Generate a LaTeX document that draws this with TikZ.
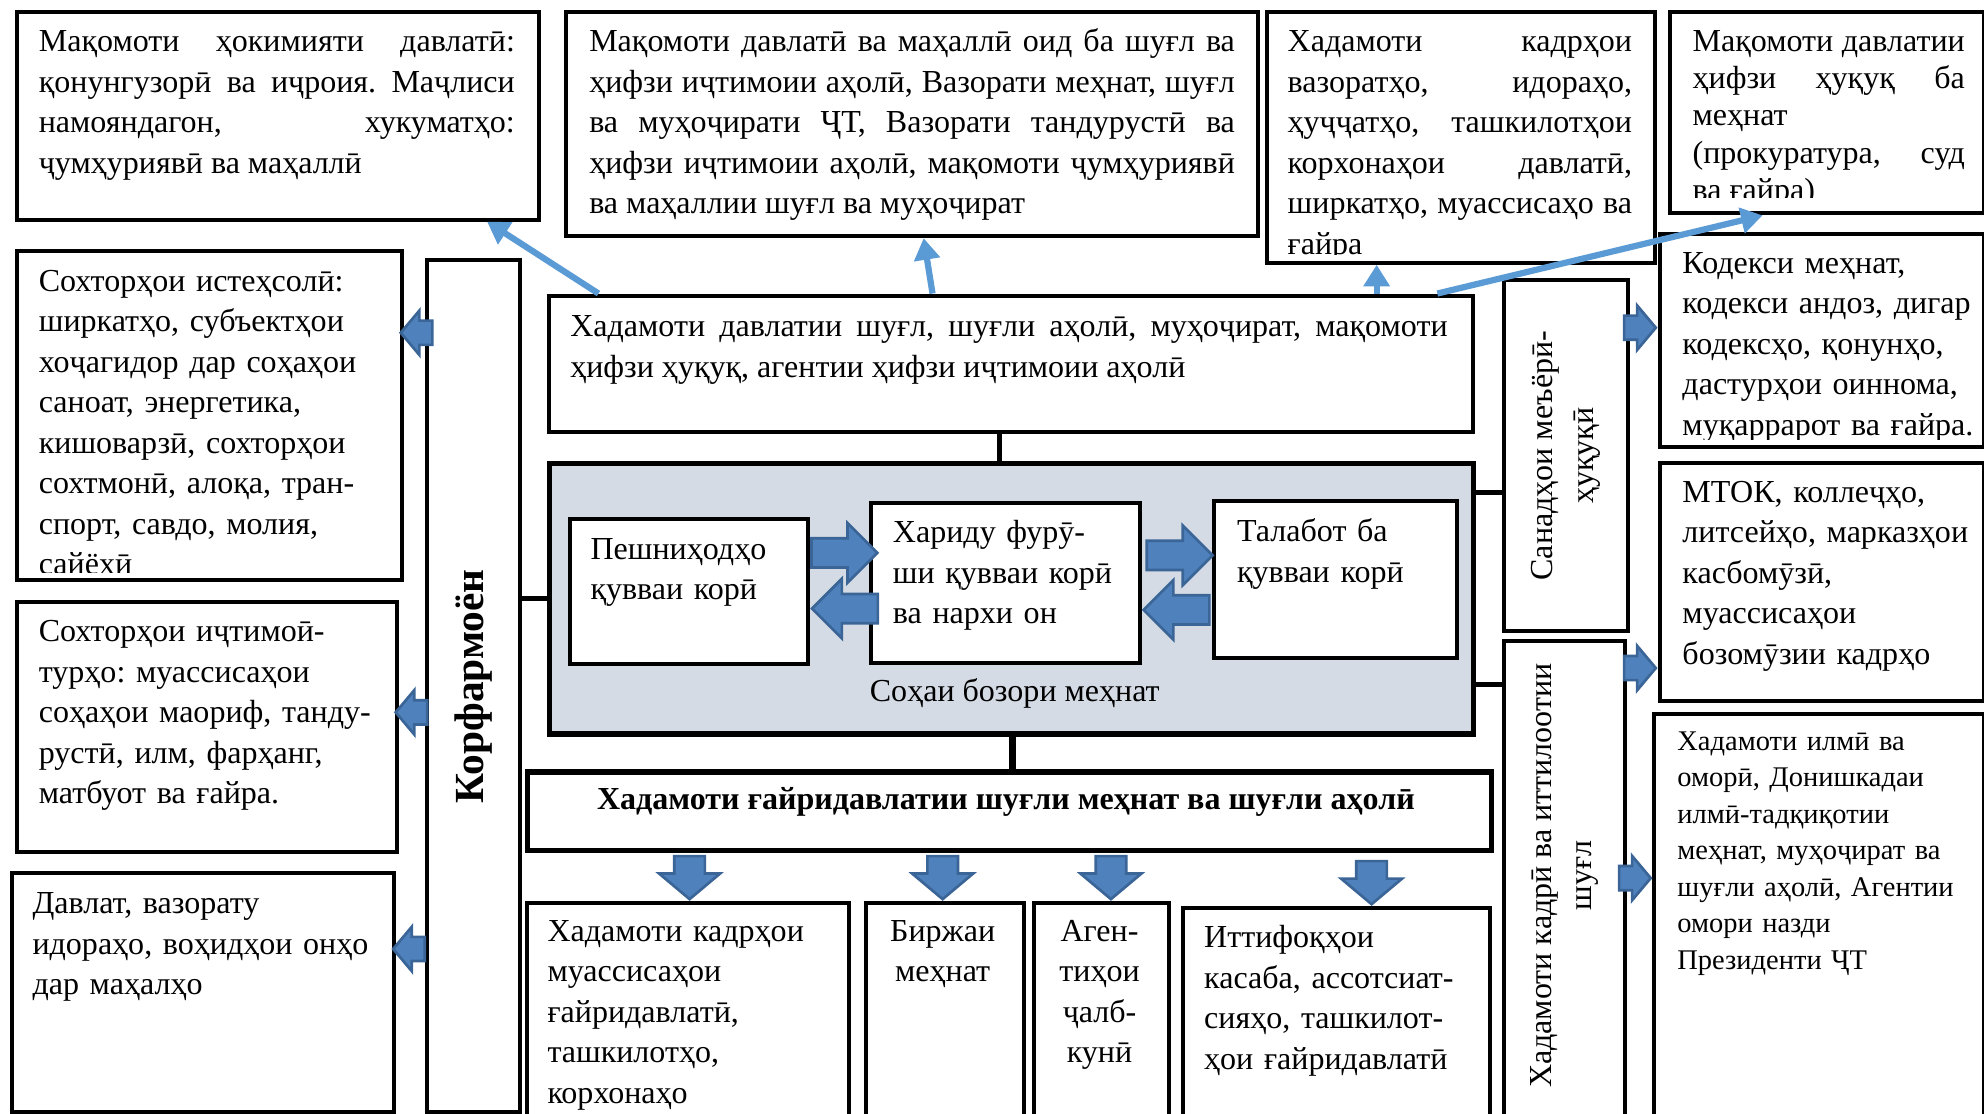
\documentclass[tikz,border=0pt]{standalone}
\usepackage{fontspec}
\setmainfont{Liberation Serif}
\usepackage{tikz}
\usetikzlibrary{arrows.meta,shapes.arrows}
\definecolor{arrowfill}{HTML}{4F81BD}
\definecolor{arrowedge}{HTML}{3A6596}
\definecolor{linkblue}{HTML}{5B9BD5}
\definecolor{marketgray}{HTML}{D5DBE5}
\newcommand{\boxfont}{\fontsize{7.2}{9.1}\selectfont}
\newcommand{\narrowfont}{\fontsize{7.2}{8.4}\selectfont}
\newcommand{\smallboxfont}{\fontsize{6.4}{8.2}\selectfont}
\hbadness=10000
\frenchspacing
\tikzset{
    %Define style for boxes
    frame/.style={
           rectangle,
           draw=black, line width=0.9pt,
           fill=white,
           anchor=north west,
           inner sep=0pt},
    heavyframe/.style={
           frame,
           line width=1.2pt},
    txt/.style={
           inner sep=0pt,
           anchor=north west,
           font=\boxfont},
    % Define arrow styles
    link/.style={
           draw=linkblue, line width=1.4pt,
           -{Triangle[length=0.17cm,width=0.2cm]}},
    conn/.style={
           draw=black, line width=1.1pt},
    blockarrow/.style={
           single arrow,
           draw=arrowedge, fill=arrowfill,
           line width=0.6pt,
           inner xsep=0pt,
           inner ysep=0.085cm,
           single arrow tip angle=100,
           single arrow head extend=0.08cm,
           minimum height=0.25cm},
    bigarrow/.style={
           blockarrow,
           single arrow tip angle=90,
           inner ysep=0.105cm,
           single arrow head extend=0.12cm,
           minimum height=0.52cm},
    downarrow/.style={
           blockarrow,
           inner ysep=0.11cm,
           single arrow head extend=0.12cm,
           minimum height=0.34cm}
}

\begin{document}
\begin{tikzpicture}[x=0.01cm,y=-0.01cm]
\clip (0,0) rectangle (1568,880);
% top row
\node[frame, minimum width=4.12cm, minimum height=1.64cm] (B1) at (12,8) {};
\node[txt, text width=3.76cm, align=justify] (B1t) at (30,18) {\strut Мақомоти ҳокимияти давлатӣ:\linebreak қонунгузорӣ ва иҷроия. Маҷлиси\linebreak намояндагон, хукуматҳо:\linebreak ҷумҳуриявӣ ва маҳаллӣ};
\node[frame, minimum width=5.46cm, minimum height=1.77cm] (B2) at (446,8) {};
\node[txt, text width=5.10cm, align=justify] (B2t) at (465,18) {\strut Мақомоти давлатӣ ва маҳаллӣ оид ба шуғл ва\linebreak ҳифзи иҷтимоии аҳолӣ, Вазорати меҳнат, шуғл\linebreak ва муҳоҷирати ҶТ, Вазорати тандурустӣ ва\linebreak ҳифзи иҷтимоии аҳолӣ, мақомоти ҷумҳуриявӣ\linebreak ва маҳаллии шуғл ва муҳоҷират};
\node[frame, minimum width=3.06cm, minimum height=1.98cm] (B3) at (1000,8) {};
\begin{scope}
\clip (B3.north west) rectangle ([yshift=0.08cm]B3.south east);
\node[txt, text width=2.72cm, align=justify] (B3t) at (1017,18) {\strut Хадамоти кадрҳои\linebreak вазоратҳо, идораҳо,\linebreak ҳуҷҷатҳо, ташкилотҳои\linebreak корхонаҳои давлатӣ,\linebreak ширкатҳо, муассисаҳо ва\linebreak ғайра};
\end{scope}
\node[frame, minimum width=2.48cm, minimum height=1.59cm] (B4) at (1318,8) {};
\begin{scope}
\clip (B4.north west) rectangle ([yshift=0.14cm]B4.south east);
\node[txt, font=\narrowfont, text width=2.15cm, align=justify] (B4t) at (1337,19) {\strut Мақомоти давлатии\linebreak ҳифзи ҳуқуқ ба\linebreak меҳнат\\ (прокуратура, суд\linebreak ва ғайра)};
\end{scope}

% state services and market
\node[frame, minimum width=7.30cm, minimum height=1.08cm] (T) at (432,232) {};
\node[txt, text width=6.93cm, align=justify] (Tt) at (450,243) {\strut Хадамоти давлатии шуғл, шуғли аҳолӣ, муҳоҷират, мақомоти\linebreak ҳифзи ҳуқуқ, агентии ҳифзи иҷтимоии аҳолӣ};
\node[heavyframe, fill=marketgray, minimum width=7.30cm, minimum height=2.14cm] (M) at (432,364) {};
\node[font=\boxfont, inner sep=0pt] (Ml) at (802,548) {Соҳаи бозори меҳнат};
\node[frame, minimum width=1.88cm, minimum height=1.14cm] (P) at (449,409) {};
\node[txt, text width=1.8cm, align=left] (Pt) at (466,419) {\strut Пешниҳодҳо\\ қувваи корӣ};
\node[frame, minimum width=2.12cm, minimum height=1.26cm] (H) at (687,396) {};
\node[txt, text width=2.0cm, align=left] (Ht) at (705,406) {\strut Хариду фурӯ-\\ ши қувваи корӣ\\ ва нархи он};
\node[frame, minimum width=1.92cm, minimum height=1.24cm] (D) at (958,394) {};
\node[txt, text width=1.8cm, align=left] (Dt) at (977,405) {\strut Талабот ба\\ қувваи корӣ};

% non-state services
\node[heavyframe, minimum width=7.61cm, minimum height=0.62cm] (N) at (415,608) {};
\node[font=\bfseries\boxfont, inner sep=0pt] (Nt) at (795,634) {Хадамоти ғайридавлатии шуғли меҳнат ва шуғли аҳолӣ};
\node[frame, minimum width=2.54cm, minimum height=2.0cm] (K1) at (415,712) {};
\node[txt, text width=2.3cm, align=left] (K1t) at (432,721) {\strut Хадамоти кадрҳои\\ муассисаҳои\\ ғайридавлатӣ,\\ ташкилотҳо,\\ корхонаҳо};
\node[frame, minimum width=1.25cm, minimum height=2.0cm] (K2) at (683,712) {};
\node[txt, anchor=north, align=center] (K2t) at (745,721) {\strut Биржаи\\ меҳнат};
\node[frame, minimum width=1.06cm, minimum height=2.0cm] (K3) at (816,712) {};
\node[txt, anchor=north, align=center] (K3t) at (869,721) {\strut Аген-\\ тиҳои\\ ҷалб-\\ кунӣ};
\node[frame, minimum width=2.43cm, minimum height=2.0cm] (K4) at (933,716) {};
\node[txt, text width=2.3cm, align=left] (K4t) at (951,726) {\strut Иттифоқҳои\\ касаба, ассотсиат-\\ сияҳо, ташкилот-\\ ҳои ғайридавлатӣ};

% employers
\node[frame, minimum width=0.73cm, minimum height=6.73cm] (E) at (336,204) {};
\node[font=\bfseries\fontsize{9.3}{11}\selectfont, rotate=90, inner sep=0pt] (Et) at (E.center) {Корфармоён};
\node[frame, minimum width=3.04cm, minimum height=2.60cm] (L1) at (12,197) {};
\begin{scope}
\clip (L1.north west) rectangle ([yshift=0.08cm]L1.south east);
\node[txt, text width=2.8cm, align=left] (L1t) at (30,207) {\strut Сохторҳои истеҳсолӣ:\\ ширкатҳо, субъектҳои\\ хоҷагидор дар соҳаҳои\\ саноат, энергетика,\\ кишоварзӣ, сохторҳои\\ сохтмонӣ, алоқа, тран-\\ спорт, савдо, молия,\\ сайёҳӣ};
\end{scope}
\node[frame, minimum width=3.00cm, minimum height=1.98cm] (L2) at (12,474) {};
\node[txt, text width=2.8cm, align=left] (L2t) at (30,484) {\strut Сохторҳои иҷтимоӣ-\\ турҳо: муассисаҳои\\ соҳаҳои маориф, танду-\\ рустӣ, илм, фарҳанг,\\ матбуот ва ғайра.};
\node[frame, minimum width=3.02cm, minimum height=1.89cm] (L3) at (8,688) {};
\node[txt, text width=2.8cm, align=left] (L3t) at (25,699) {\strut Давлат, вазорату\\ идораҳо, воҳидҳои онҳо\\ дар маҳалҳо};

% legal and information services
\node[frame, minimum width=0.98cm, minimum height=2.77cm] (S) at (1187,220) {};
\node[font=\boxfont, rotate=90, align=center, inner sep=0pt] (St) at (S.center) {Санадҳои меъёрӣ-\\ ҳуқуқӣ};
\node[frame, minimum width=0.96cm, minimum height=3.9cm] (Q) at (1187,505) {};
\node[font=\boxfont, rotate=90, align=center, inner sep=0pt] (Qt) at (Q.north |- 0,692) {Хадамоти кадрӣ ва иттилоотии\\ шуғл};
\node[frame, minimum width=2.56cm, minimum height=1.69cm] (R1) at (1310,183) {};
\begin{scope}
\clip (R1.north west) rectangle ([yshift=0.08cm]R1.south east);
\node[txt, text width=2.5cm, align=left] (R1t) at (1329,193) {\strut Кодекси меҳнат,\\ кодекси андоз, дигар\\ кодексҳо, қонунҳо,\\ дастурҳои оиннома,\\ муқаррарот ва ғайра.};
\end{scope}
\node[frame, minimum width=2.56cm, minimum height=1.88cm] (R2) at (1310,364) {};
\node[txt, text width=2.4cm, align=left] (R2t) at (1329,374) {\strut МТОК, коллеҷҳо,\\ литсейҳо, марказҳои\\ касбомӯзӣ,\\ муассисаҳои\\ бозомӯзии кадрҳо};
\node[frame, minimum width=2.60cm, minimum height=3.3cm] (R3) at (1306,563) {};
\node[txt, font=\smallboxfont, text width=2.4cm, align=left] (R3t) at (1325,572) {\strut Хадамоти илмӣ ва\\ оморӣ, Донишкадаи\\ илмӣ-тадқиқотии\\ меҳнат, муҳоҷират ва\\ шуғли аҳолӣ, Агентии\\ омори назди\\ Президенти ҶТ};

% connectors
\draw[conn] (T.south -| 790,0) -- (M.north -| 790,0);
\draw[conn, line width=1.5pt] (M.south -| 800,0) -- (N.north -| 800,0);
\draw[conn] (E.east |- 0,473) -- (M.west |- 0,473);
\draw[conn] (M.east |- 0,389) -- (S.west |- 0,389);
\draw[conn] (M.east |- 0,541) -- (Q.west |- 0,541);
\draw[link] (T.north -| 473,0) -- (B1.south -| 385,0);
\draw[link] (T.north -| 737,0) -- (B2.south -| 730,0);
\draw[link] (T.north -| 1088,0) -- (B3.south -| 1088,0);
\draw[link] (T.north -| 1136,0) -- (B4.south -| 1393,0);

% block arrows
\node[bigarrow, anchor=tail] (a1) at (P.east |- 0,437) {};
\node[bigarrow, rotate=180, anchor=tip] (a2) at (P.east |- 0,481) {};
\node[bigarrow, anchor=tail] (a3) at ([xshift=0.03cm]H.east |- 0,439) {};
\node[bigarrow, rotate=180, anchor=tip] (a4) at (H.east |- 0,482) {};
\node[blockarrow, rotate=180, anchor=tip] (a5) at ([xshift=-0.04cm]L1.east |- 0,263) {};
\node[blockarrow, rotate=180, anchor=tip] (a6) at ([xshift=-0.04cm]L2.east |- 0,563) {};
\node[blockarrow, rotate=180, anchor=tip] (a7) at ([xshift=-0.04cm]L3.east |- 0,750) {};
\node[blockarrow, anchor=tip] (a8) at (R1.west |- 0,259) {};
\node[blockarrow, anchor=tip] (a9) at (R2.west |- 0,528) {};
\node[blockarrow, anchor=tip] (a10) at (R3.west |- 0,694) {};
\node[downarrow, rotate=-90, anchor=tip] (a11) at (K1.north -| 545,0) {};
\node[downarrow, rotate=-90, anchor=tip] (a12) at (K2.north -| 745,0) {};
\node[downarrow, rotate=-90, anchor=tip] (a13) at (K3.north -| 878,0) {};
\node[downarrow, rotate=-90, anchor=tip] (a14) at (K4.north -| 1084,0) {};
\end{tikzpicture}
\end{document}
